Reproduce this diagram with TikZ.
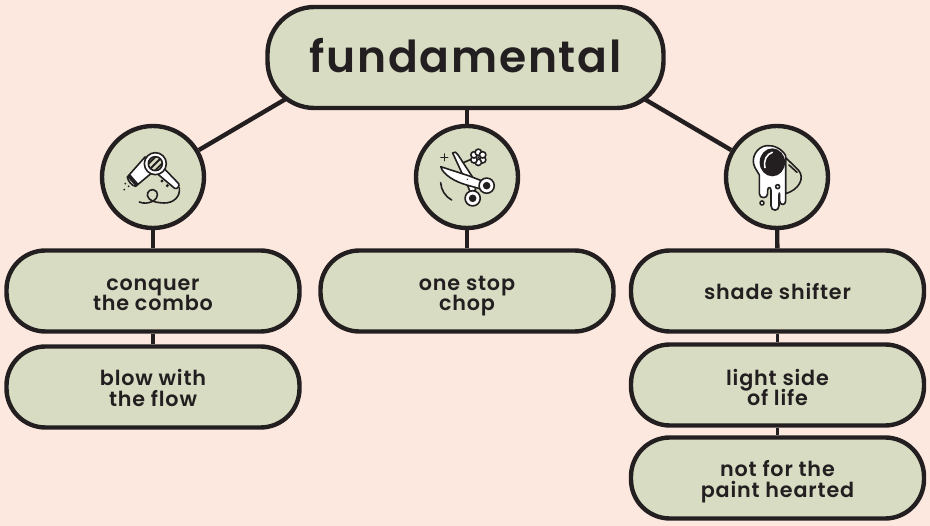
\documentclass[tikz,border=0pt]{standalone}
\usepackage{fontspec}
\setmainfont{Poppins}[LetterSpace=4,BoldFont={Poppins SemiBold}]
\usetikzlibrary{calc}
\definecolor{bgc}{HTML}{FDE8DF}
\definecolor{fillc}{HTML}{D8DCC2}
\definecolor{ink}{HTML}{231F20}
\pgfdeclarelayer{bgl}\pgfdeclarelayer{edgel}
\pgfsetlayers{bgl,edgel,main}
\newcommand{\lowtxt}[2]{\smash{\raisebox{-#1pt}{#2}}}
\tikzset{
 pill/.style={draw=ink,fill=fillc,line width=4.4pt,rounded corners=39pt,minimum width=293pt,minimum height=81pt,inner sep=0pt,align=center,text=ink,font=\fontsize{20.7}{20.6}\selectfont\bfseries},
 rootbox/.style={draw=ink,fill=fillc,line width=4.4pt,rounded corners=47pt,minimum width=396pt,minimum height=101pt,inner sep=0pt,text=ink,font=\fontsize{44}{50}\selectfont\bfseries},
 disc/.style={draw=ink,fill=fillc,line width=4.4pt,circle,minimum size=102pt,inner sep=0pt},
 link/.style={draw=ink,line width=4.4pt},
 joint/.style={draw=ink,line width=3.4pt},
 ico/.style={draw=ink,line width=1.6pt,line join=round,line cap=round},
 icow/.style={ico,fill=white},
}
\begin{document}
\begin{tikzpicture}[x=1pt,y=-1pt]
\begin{pgfonlayer}{bgl}
\fill[bgc] (0,0) rectangle (930,526);
\end{pgfonlayer}
\useasboundingbox (0,0) rectangle (930,526);
\node[rootbox] (root) at (465.5,57.5) {\lowtxt{15.5}{fundamental}};
\node[disc] (c1) at (153,177) {};
\node[disc] (c2) at (467,177) {};
\node[disc] (c3) at (777,177) {};
\node[pill] (a1) at (153,291) {\lowtxt{9.5}{conquer}\\\lowtxt{9.5}{the combo}};
\node[pill] (a2) at (153,387) {\lowtxt{9}{blow with}\\\lowtxt{9}{the flow}};
\node[pill] (b1) at (467,291) {\lowtxt{9.5}{one stop}\\\lowtxt{9.5}{chop}};
\node[pill] (d1) at (777.5,291) {\lowtxt{8.5}{shade shifter}};
\node[pill] (d2) at (777.5,385) {\lowtxt{10.5}{light side}\\\lowtxt{10.5}{of life}};
\node[pill] (d3) at (777.5,478) {\lowtxt{9}{not for the}\\\lowtxt{9}{paint hearted}};
\coordinate (rl) at (330,73);
\coordinate (rr) at (600,73);
\begin{pgfonlayer}{edgel}
\draw[link] (rl) -- (c1);
\draw[link] (rr) -- (c3);
\draw[link] (c2 |- root) -- (c2);
\draw[link] (c1) -- (a1);
\draw[link] (c2) -- (b1);
\draw[link] (c3) -- (d1);
\draw[joint] (a1) -- (a2);
\draw[joint] (d1) -- (d2);
\draw[joint] (d2) -- (d3);
\end{pgfonlayer}
% hair dryer
\begin{scope}[shift={(90,115)},x=0.3333pt,y=-0.3333pt]
\draw[ico] (268,218) .. controls (272,245) and (250,265) .. (222,264) .. controls (205,263) and (190,262) .. (178,252) .. controls (165,240) and (175,222) .. (190,224) .. controls (208,228) and (205,250) .. (190,258) .. controls (175,266) and (160,266) .. (148,261);
\draw[icow] (112,186) -- (165,126) -- (190,170) -- (137,214) .. controls (125,212) and (114,198) .. (112,186) -- cycle;
\draw[icow] (222,160) -- (266,206) .. controls (270,212) and (262,224) .. (254,220) -- (204,178) -- cycle;
\fill[ink] (112,186) -- (120,177) -- (146,207) -- (137,214) -- cycle;
\fill[ink] (216,198) circle (1.7pt) (232,212) circle (1.7pt);
\draw[icow] (196,146) circle (11pt);
\draw[ico,fill=fillc] (196,146) circle (7pt);
\begin{scope}
\clip (196,146) circle (7pt);
\draw[ico,line width=1.9pt] (176,146) -- (198,124) (180,162) -- (212,130) (196,166) -- (216,146);
\end{scope}
\fill[ink] (106,206) circle (1pt) (116,214) circle (1pt) (103,224) circle (1pt);
\end{scope}
% scissors
\begin{scope}[shift={(405,115)},x=0.3333pt,y=-0.3333pt]
\draw[ico] (175,143) -- (205,130);
\foreach \a in {0,60,...,300} \draw[icow] ($(220,127)+(\a+30:15)$) circle (3.2pt);
\fill[ink] (220,127) circle (1pt);
\draw[icow] (143,114) .. controls (148,108) and (155,112) .. (158,118) -- (205,190) -- (212,225) -- (196,232) -- (185,205) -- cycle;
\draw[icow] (107,155) -- (190,182) -- (232,198) -- (228,222) -- (185,210) .. controls (150,200) and (115,180) .. (107,155) -- cycle;
\draw[icow] (245,212) circle (7.6pt);
\fill[ink] (245,212) circle (3.8pt);
\draw[icow] (203,250) circle (7.6pt);
\fill[ink] (203,250) circle (3.8pt);
\fill[ink] (187,193) circle (.7pt);
\draw[ico] (118,117) -- (118,137) (108,127) -- (128,127);
\draw[ico] (107,203) .. controls (108,225) and (122,246) .. (140,255);
\end{scope}
% paint
\begin{scope}[shift={(715,115)},x=0.3333pt,y=-0.3333pt]
\draw[ico,fill=fillc] (212,128) -- (250,165) .. controls (272,190) and (250,225) .. (212,236) -- cycle;
\draw[ico] (222,150) -- (246,172);
\draw[icow] (133,180) -- (133,236) .. controls (133,252) and (158,252) .. (158,236) -- (158,226) .. controls (158,215) and (168,215) .. (168,226) -- (168,272) .. controls (168,290) and (192,290) .. (192,272) -- (192,240) .. controls (192,232) and (194,232) .. (194,240) -- (194,258) .. controls (194,272) and (212,272) .. (212,258) -- (212,122) .. controls (200,100) and (175,90) .. (155,92) .. controls (125,95) and (105,130) .. (120,158) -- cycle;
\fill[ink] (172,142) ellipse (12.7pt and 14pt);
\draw[ico,white,line width=1.6pt] (150,158) .. controls (145,135) and (155,118) .. (172,112);
\draw[icow] (141,264) circle (2pt);
\draw[icow] (188,215) circle (2pt);
\end{scope}
\end{tikzpicture}
\end{document}
